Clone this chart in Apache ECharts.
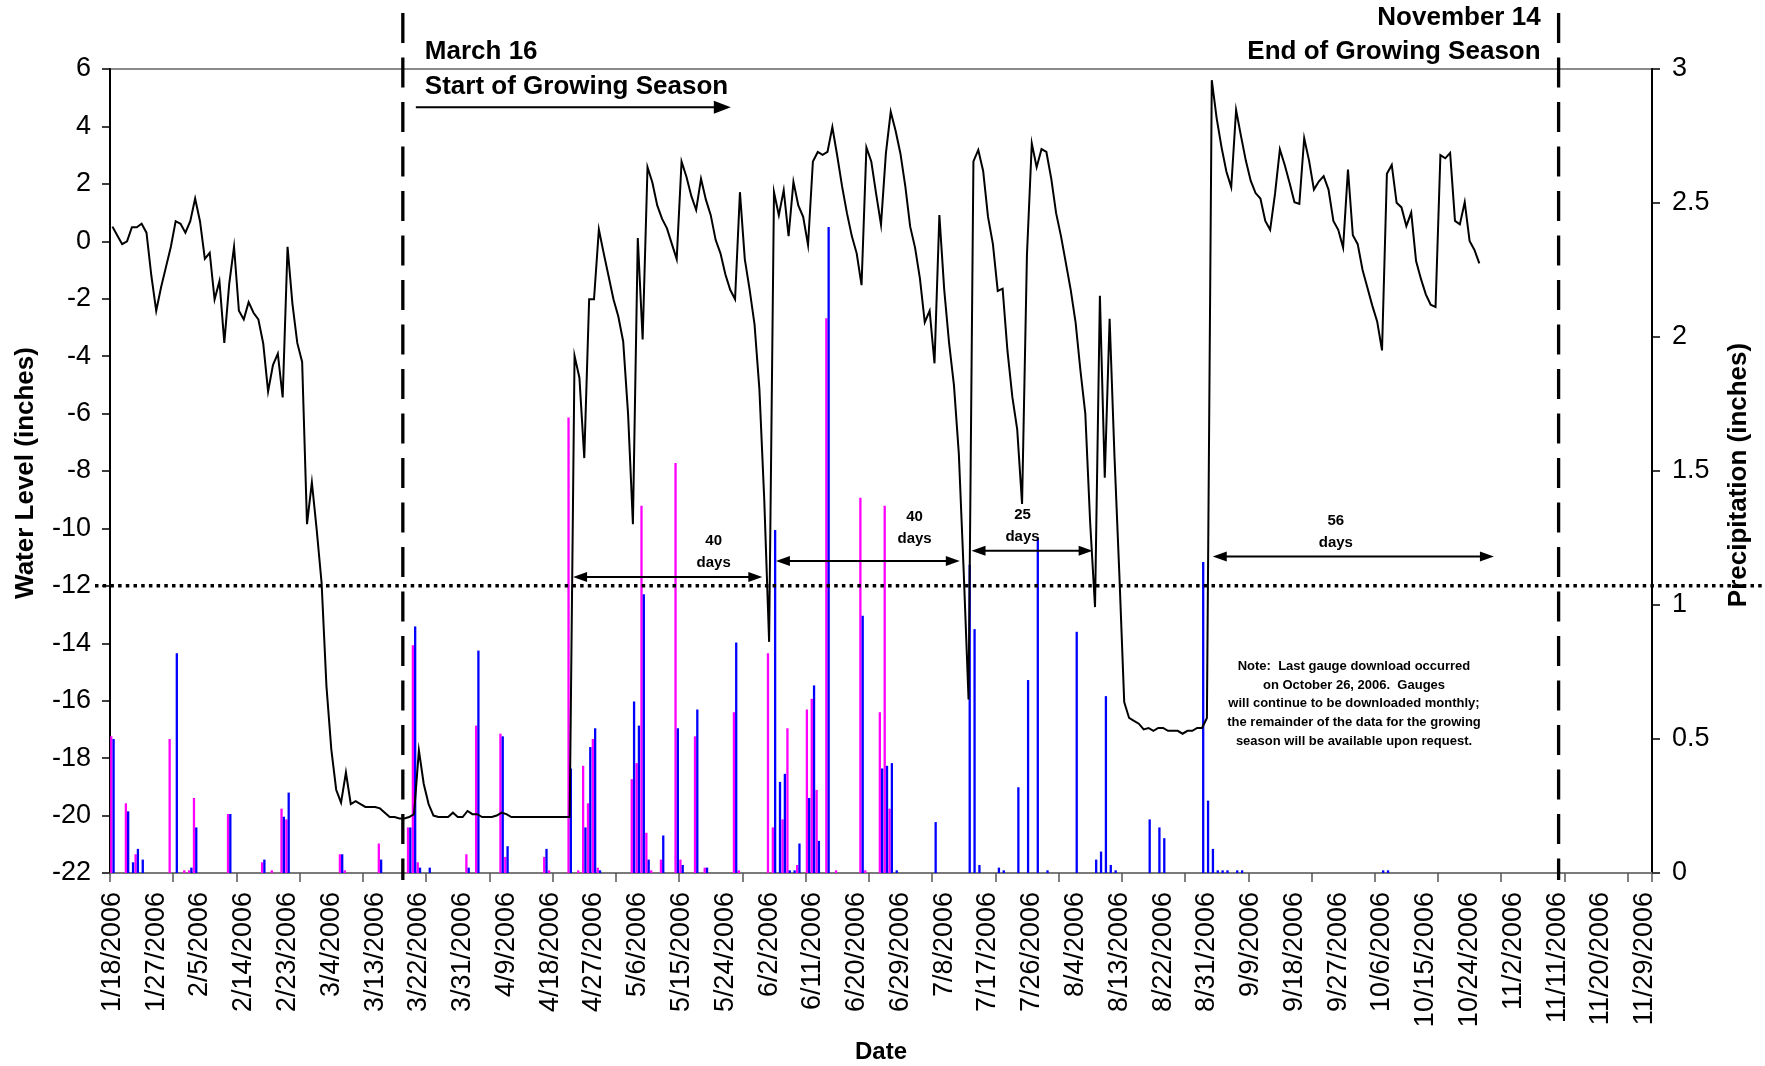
<!DOCTYPE html>
<html>
<head>
<meta charset="utf-8">
<title>Water Level and Precipitation, 2006</title>
<script src="https://cdn.jsdelivr.net/npm/echarts@6/dist/echarts.min.js"></script>
<style>
  html, body { margin: 0; padding: 0; background: #ffffff; }
  #chart { width: 1765px; height: 1066px; }
</style>
</head>
<body>
<div id="chart"></div>
<script>
// ---- Daily date categories, 1/18/2006 through 11/30/2006 ----
const dayCount = 317;
const dates = [];
for (let i = 0; i < dayCount; i++) {
  const d = new Date(2006, 0, 18 + i);
  dates.push((d.getMonth() + 1) + '/' + d.getDate() + '/' + d.getFullYear());
}

// ---- Water level (inches), one reading per day from 1/18/2006 to 10/26/2006 ----
const waterLevel = [
  0.51, 0.2, -0.1, 0.0, 0.49, 0.49, 0.61, 0.30, -1.2, -2.42,
  -1.6, -0.9, -0.2, 0.70, 0.61, 0.30, 0.70, 1.49, 0.70, -0.61,
  -0.40, -2.03, -1.39, -3.54, -1.5, -0.19, -2.42, -2.72, -2.12, -2.49,
  -2.72, -3.56, -5.23, -4.31, -3.91, -5.44, -0.19, -2.17, -3.54, -4.2,
  -9.85, -8.40, -10.06, -11.9, -15.5, -17.7, -19.1, -19.55, -18.5, -19.6,
  -19.5, -19.6, -19.7, -19.7, -19.7, -19.75, -19.9, -20.05, -20.05, -20.1,
  -20.1, -20.05, -19.95, -17.73, -18.9, -19.6, -20.0, -20.05, -20.05, -20.05,
  -19.9, -20.05, -20.05, -19.84, -19.95, -19.95, -20.05, -20.05, -20.05, -20.0,
  -19.9, -19.95, -20.05, -20.05, -20.05, -20.05, -20.05, -20.05, -20.05, -20.05,
  -20.05, -20.05, -20.05, -20.05, -20.05, -3.99, -4.75, -7.55, -2.02, -2.02,
  0.41, -0.42, -1.22, -2.02, -2.62, -3.49, -6.0, -9.85, 0.11, -3.42,
  2.58, 2.05, 1.25, 0.78, 0.45, -0.09, -0.62, 2.78, 2.25, 1.58,
  1.09, 2.18, 1.45, 0.91, 0.05, -0.42, -1.15, -1.69, -2.02, 1.71,
  -0.62, -1.69, -2.89, -5.15, -9.0, -13.95, 1.71, 0.91, 1.78, 0.18,
  2.07, 1.25, 0.85, -0.13, 2.78, 3.11, 3.01, 3.11, 3.98, 2.98,
  1.91, 0.98, 0.18, -0.42, -1.53, 3.27, 2.78, 1.65, 0.58, 3.05,
  4.51, 3.85, 3.05, 1.91, 0.51, -0.22, -1.29, -2.82, -2.42, -4.25,
  0.91, -1.69, -3.55, -5.02, -7.4, -11.5, -15.96, 2.78, 3.18, 2.45,
  0.85, -0.09, -1.73, -1.65, -3.82, -5.42, -6.55, -9.15, -0.49, 3.41,
  2.58, 3.21, 3.11, 2.18, 0.98, 0.18, -0.75, -1.69, -2.82, -4.5,
  -6.0, -9.8, -12.74, -1.90, -8.23, -2.70, -7.5, -11.6, -16.05, -16.6,
  -16.7, -16.8, -17.0, -16.95, -17.05, -16.95, -16.95, -17.05, -17.05, -17.05,
  -17.15, -17.05, -17.05, -16.95, -16.95, -16.6, 5.61, 4.29, 3.28, 2.43,
  1.88, 4.57, 3.67, 2.81, 2.11, 1.68, 1.49, 0.71, 0.40, 1.65,
  3.20, 2.66, 2.03, 1.36, 1.30, 3.59, 2.81, 1.80, 2.08, 2.27,
  1.80, 0.71, 0.40, -0.22, 2.50, 0.21, -0.10, -1.00, -1.62, -2.24,
  -2.79, -3.80, 2.35, 2.66, 1.34, 1.18, 0.53, 1.00, -0.69, -1.31,
  -1.85, -2.21, -2.29, 3.00, 2.89, 3.08, 0.71, 0.59, 1.36, 0.01,
  -0.30, -0.77
];

// ---- Precipitation (inches) by day index: [dayIndex, inches] ----
const rainGaugeMagenta = [
  [0, 0.51], [3, 0.26], [5, 0.07], [12, 0.50], [15, 0.01], [16, 0.01], [17, 0.28],
  [24, 0.22], [31, 0.04], [33, 0.01], [35, 0.24], [36, 0.20], [47, 0.07], [48, 0.01],
  [55, 0.11], [61, 0.17], [62, 0.85], [63, 0.04], [73, 0.07], [75, 0.55], [80, 0.52],
  [81, 0.06], [89, 0.06], [90, 0.01], [94, 1.70], [96, 0.01], [97, 0.40], [98, 0.26],
  [99, 0.50], [100, 0.02], [107, 0.35], [108, 0.41], [109, 1.37], [110, 0.15], [111, 0.01],
  [113, 0.05], [116, 1.53], [117, 0.05], [120, 0.51], [122, 0.02], [128, 0.60], [129, 0.01],
  [135, 0.82], [136, 0.17], [138, 0.20], [139, 0.54], [141, 0.03], [143, 0.61], [144, 0.65],
  [145, 0.31], [147, 2.07], [149, 0.01], [154, 1.40], [155, 0.01], [158, 0.60], [159, 1.37],
  [160, 0.24]
];
const rainGaugeBlue = [
  [0, 0.50], [3, 0.23], [4, 0.04], [5, 0.09], [6, 0.05], [13, 0.82], [16, 0.02], [17, 0.17],
  [24, 0.22], [31, 0.05], [35, 0.21], [36, 0.30], [47, 0.07], [55, 0.05], [61, 0.17], [62, 0.92],
  [63, 0.02], [65, 0.02], [73, 0.02], [75, 0.83], [80, 0.51], [81, 0.10], [89, 0.09], [94, 0.39],
  [97, 0.17], [98, 0.47], [99, 0.54], [100, 0.01], [107, 0.64], [108, 0.55], [109, 1.04],
  [110, 0.05], [113, 0.14], [116, 0.54], [117, 0.03], [120, 0.61], [122, 0.02], [128, 0.86],
  [136, 1.28], [137, 0.34], [138, 0.37], [139, 0.01], [140, 0.01], [141, 0.11], [143, 0.28],
  [144, 0.70], [145, 0.12], [147, 2.41], [154, 0.96], [158, 0.39], [159, 0.40], [160, 0.41],
  [161, 0.01], [169, 0.19], [176, 1.15], [177, 0.91], [178, 0.03], [182, 0.02], [183, 0.01],
  [186, 0.32], [188, 0.72], [190, 1.25], [192, 0.01], [198, 0.90], [202, 0.05], [203, 0.08],
  [204, 0.66], [205, 0.03], [206, 0.01], [213, 0.20], [215, 0.17], [216, 0.13], [224, 1.16],
  [225, 0.27], [226, 0.09], [227, 0.01], [228, 0.01], [229, 0.01], [231, 0.01], [232, 0.01],
  [261, 0.01], [262, 0.01]
];

// ---- Axis ranges ----
const levelAxis = { min: -22, max: 6, step: 2 };
const rainAxis = { min: 0, max: 3, step: 0.5 };
const labelEvery = 9;   // one date label every 9 days
const tickEvery = 13;   // one tick mark every 13 days

// ---- Reference level and season markers (day index / inches) ----
const criticalLevel = -12;
const seasonStartDay = 59.7;
const seasonEndDay = 297.3;

// Periods with water level above the critical level
const wetSpans = [
  { from: 94.7,  to: 133.6, level: -11.69, days: 40, labelDay: 123.6, labelLevel: -10.45 },
  { from: 136.4, to: 174.2, level: -11.13, days: 40, labelDay: 164.9, labelLevel: -9.6 },
  { from: 176.6, to: 201.5, level: -10.78, days: 25, labelDay: 187.1, labelLevel: -9.54 },
  { from: 226.2, to: 284.0, level: -10.98, days: 56, labelDay: 251.5, labelLevel: -9.75 }
];

const FONT = "'Liberation Sans', Arial, Helvetica, sans-serif";
const TICK_FONT = 27;
const chart = echarts.init(document.getElementById('chart'), null, { renderer: 'canvas' });

const option = {
  animation: false,
  backgroundColor: '#ffffff',
  textStyle: { fontFamily: FONT },
  grid: {
    left: 110, right: 113, top: 69, bottom: 193,
    show: true, borderColor: '#8a8a8a', borderWidth: 2, backgroundColor: 'transparent'
  },
  xAxis: [
    {
      type: 'category',
      data: dates,
      boundaryGap: true,
      axisLine: { show: true, onZero: false, lineStyle: { color: '#7a7a7a', width: 2 } },
      axisTick: { show: true, interval: tickEvery - 1, length: 9, lineStyle: { color: '#555555', width: 1.5 } },
      axisLabel: {
        interval: labelEvery - 1, rotate: 90, margin: 19,
        fontSize: TICK_FONT, color: '#000000', fontFamily: FONT
      },
      splitLine: { show: false }
    },
    {
      // numeric twin of the date axis, used to place annotations by day index
      type: 'value', min: -0.5, max: dayCount - 0.5, show: false,
      axisLine: { show: false, onZero: false },
      splitLine: { show: false }
    }
  ],
  yAxis: [
    {
      type: 'value', position: 'left',
      min: levelAxis.min, max: levelAxis.max, interval: levelAxis.step,
      axisLine: { show: true, onZero: false, lineStyle: { color: '#000000', width: 2 } },
      axisTick: { show: true, length: 8, lineStyle: { color: '#000000', width: 1.5 } },
      axisLabel: { fontSize: TICK_FONT, margin: 19, color: '#000000', fontFamily: FONT },
      splitLine: { show: false }
    },
    {
      type: 'value', position: 'right',
      min: rainAxis.min, max: rainAxis.max, interval: rainAxis.step,
      axisLine: { show: true, onZero: false, lineStyle: { color: '#000000', width: 2 } },
      axisTick: { show: true, length: 8, lineStyle: { color: '#000000', width: 1.5 } },
      axisLabel: { fontSize: TICK_FONT, margin: 20, color: '#000000', fontFamily: FONT },
      splitLine: { show: false }
    }
  ],
  series: [
    {
      name: 'Precipitation gauge 1',
      type: 'bar',
      xAxisIndex: 0, yAxisIndex: 1,
      data: rainGaugeMagenta,
      barWidth: 2.3, barGap: '0%',
      itemStyle: { color: '#ff00ff' },
      z: 2
    },
    {
      name: 'Precipitation gauge 2',
      type: 'bar',
      xAxisIndex: 0, yAxisIndex: 1,
      data: rainGaugeBlue,
      barWidth: 2.3, barGap: '0%',
      itemStyle: { color: '#0000ff' },
      z: 2
    },
    {
      name: 'Water Level',
      type: 'line',
      xAxisIndex: 0, yAxisIndex: 0,
      data: waterLevel,
      showSymbol: false, symbol: 'none',
      lineStyle: { color: '#000000', width: 2, join: 'miter' },
      z: 5
    }
  ]
};

chart.setOption(option);

// ---- Annotations placed through the axes ----
const px = d => chart.convertToPixel({ xAxisIndex: 1 }, d);
const py = v => chart.convertToPixel({ yAxisIndex: 0 }, v);

const g = [];
const Z = 50;

function head(tipX, tipY, dir, len, half) {
  return {
    type: 'polygon', z: Z,
    shape: { points: [[tipX, tipY], [tipX - dir * len, tipY - half], [tipX - dir * len, tipY + half]] },
    style: { fill: '#000000' }
  };
}

// dotted critical water level line
const yCrit = py(criticalLevel);
g.push({
  type: 'line', z: Z,
  shape: { x1: 95, y1: yCrit, x2: 1765, y2: yCrit },
  style: { stroke: '#000000', lineWidth: 3.5, lineDash: [3.5, 4.2] }
});

// growing season boundaries
const xStart = px(seasonStartDay);
const xEnd = px(seasonEndDay);
[xStart, xEnd].forEach(x => {
  g.push({
    type: 'line', z: Z,
    shape: { x1: x, y1: 13, x2: x, y2: 880 },
    style: { stroke: '#000000', lineWidth: 3.3, lineDash: [30, 14.5] }
  });
});

const boldBig = 'bold 26px ' + FONT;
g.push({ type: 'text', z: Z, x: xStart + 22, y: 51.5,
  style: { text: 'March 16', font: boldBig, fill: '#000', align: 'left', verticalAlign: 'middle' } });
g.push({ type: 'text', z: Z, x: xStart + 22, y: 86.5,
  style: { text: 'Start of Growing Season', font: boldBig, fill: '#000', align: 'left', verticalAlign: 'middle' } });
g.push({ type: 'line', z: Z,
  shape: { x1: xStart + 13, y1: 107.3, x2: xStart + 312, y2: 107.3 },
  style: { stroke: '#000', lineWidth: 2 } });
g.push(head(xStart + 328, 107.3, 1, 17, 6.5));

g.push({ type: 'text', z: Z, x: xEnd - 18, y: 17.5,
  style: { text: 'November 14', font: boldBig, fill: '#000', align: 'right', verticalAlign: 'middle' } });
g.push({ type: 'text', z: Z, x: xEnd - 18, y: 51.5,
  style: { text: 'End of Growing Season', font: boldBig, fill: '#000', align: 'right', verticalAlign: 'middle' } });

// wet-period spans with day counts
const boldSmall = 'bold 15px ' + FONT;
wetSpans.forEach(s => {
  const x1 = px(s.from), x2 = px(s.to), y = py(s.level);
  g.push({ type: 'line', z: Z,
    shape: { x1: x1 + 8, y1: y, x2: x2 - 8, y2: y },
    style: { stroke: '#000', lineWidth: 2 } });
  g.push(head(x1, y, -1, 14, 5));
  g.push(head(x2, y, 1, 14, 5));
  const lx = px(s.labelDay), ly = py(s.labelLevel);
  g.push({ type: 'text', z: Z, x: lx, y: ly,
    style: { text: String(s.days), font: boldSmall, fill: '#000', align: 'center', verticalAlign: 'middle' } });
  g.push({ type: 'text', z: Z, x: lx, y: ly + 22,
    style: { text: 'days', font: boldSmall, fill: '#000', align: 'center', verticalAlign: 'middle' } });
});

// note about the data
g.push({ type: 'text', z: Z, x: 1354, y: 657,
  style: {
    text: 'Note:  Last gauge download occurred\non October 26, 2006.  Gauges\nwill continue to be downloaded monthly;\nthe remainder of the data for the growing\nseason will be available upon request.',
    font: 'bold 13px ' + FONT, fill: '#000', align: 'center', verticalAlign: 'top', lineHeight: 18.7
  } });

// axis titles
g.push({ type: 'text', z: Z, x: 26, y: 473, rotation: Math.PI / 2,
  style: { text: 'Water Level (inches)', font: 'bold 26px ' + FONT, fill: '#000', align: 'center', verticalAlign: 'middle' } });
g.push({ type: 'text', z: Z, x: 1739, y: 475, rotation: Math.PI / 2,
  style: { text: 'Precipitation (inches)', font: 'bold 26px ' + FONT, fill: '#000', align: 'center', verticalAlign: 'middle' } });
g.push({ type: 'text', z: Z, x: 881, y: 1052,
  style: { text: 'Date', font: 'bold 24px ' + FONT, fill: '#000', align: 'center', verticalAlign: 'middle' } });

chart.setOption({ graphic: { elements: g } });
</script>
</body>
</html>
